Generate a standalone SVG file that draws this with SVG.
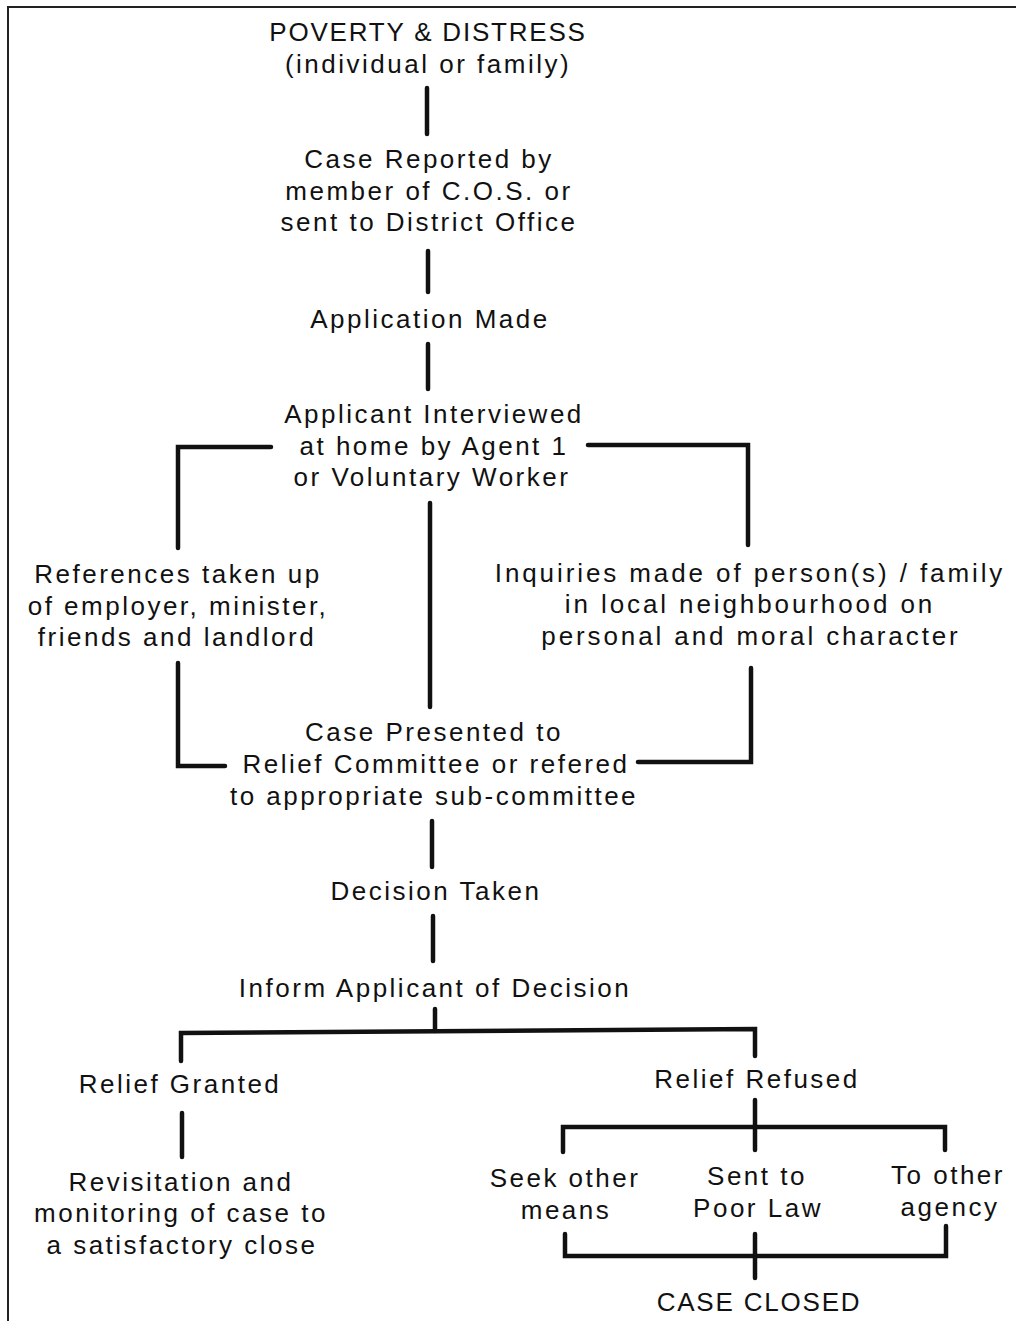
<svg xmlns="http://www.w3.org/2000/svg" width="1016" height="1321" viewBox="0 0 1016 1321">
<style>
text{font-family:"Liberation Sans",Arial,sans-serif;font-size:26px;fill:#111;text-anchor:middle;letter-spacing:2.5px}
.caps{letter-spacing:1.8px}
.wide{letter-spacing:2.9px}
.c{fill:none;stroke:#111;stroke-width:4.5;stroke-linecap:round;stroke-linejoin:miter}
.b{fill:none;stroke:#222;stroke-width:2}
</style>
<rect width="1016" height="1321" fill="#fff"/>
<path class="b" d="M8 1321 V7 H1016"/>
<g id="connectors">
<path class="c" d="M427 88 V134"/>
<path class="c" d="M428 251 V292"/>
<path class="c" d="M428 344 V389"/>
<path class="c" d="M271 447 H178 V548"/>
<path class="c" d="M588 445 H748 V545"/>
<path class="c" d="M430 503 V707"/>
<path class="c" d="M178 663 V766 H225"/>
<path class="c" d="M751 668 V762 H638"/>
<path class="c" d="M432 821 V867"/>
<path class="c" d="M433 916 V961"/>
<path class="c" d="M435 1009 V1031"/>
<path class="c" d="M181 1061 V1033 L755 1029 V1056"/>
<path class="c" d="M182 1113 V1157"/>
<path class="c" d="M755 1100 V1150"/>
<path class="c" d="M563 1152 V1127 H945 V1150"/>
<path class="c" d="M565 1234 V1256 H946 V1226"/>
<path class="c" d="M755 1234 V1278"/>
</g>
<g id="poverty"><text class="caps" x="428" y="41">POVERTY &amp; DISTRESS</text><text x="428" y="73">(individual or family)</text></g>
<g id="reported"><text x="429" y="168">Case Reported by</text><text x="429" y="200">member of C.O.S. or</text><text x="429" y="231">sent to District Office</text></g>
<g id="application"><text x="430" y="328">Application Made</text></g>
<g id="interviewed"><text x="434" y="423">Applicant Interviewed</text><text x="434" y="455">at home by Agent 1</text><text x="432" y="486">or Voluntary Worker</text></g>
<g id="references"><text x="178" y="583">References taken up</text><text x="178" y="615">of employer, minister,</text><text x="177" y="646">friends and landlord</text></g>
<g id="inquiries"><text class="wide" x="750" y="582">Inquiries made of person(s) / family</text><text class="wide" x="750" y="613">in local neighbourhood on</text><text class="wide" x="751" y="645">personal and moral character</text></g>
<g id="presented"><text x="434" y="741">Case Presented to</text><text x="436" y="773">Relief Committee or refered</text><text x="434" y="805">to appropriate sub-committee</text></g>
<g id="decision"><text x="436" y="900">Decision Taken</text></g>
<g id="inform"><text x="435" y="997">Inform Applicant of Decision</text></g>
<g id="granted"><text x="180" y="1093">Relief Granted</text></g>
<g id="refused"><text x="757" y="1088">Relief Refused</text></g>
<g id="revisitation"><text x="181" y="1191">Revisitation and</text><text x="181" y="1222">monitoring of case to</text><text x="182" y="1254">a satisfactory close</text></g>
<g id="seek"><text x="565" y="1187">Seek other</text><text x="566" y="1219">means</text></g>
<g id="poorlaw"><text x="757" y="1185">Sent to</text><text x="758" y="1217">Poor Law</text></g>
<g id="agency"><text x="948" y="1184">To other</text><text x="950" y="1216">agency</text></g>
<g id="closed"><text class="caps" x="759" y="1311">CASE CLOSED</text></g>
</svg>
